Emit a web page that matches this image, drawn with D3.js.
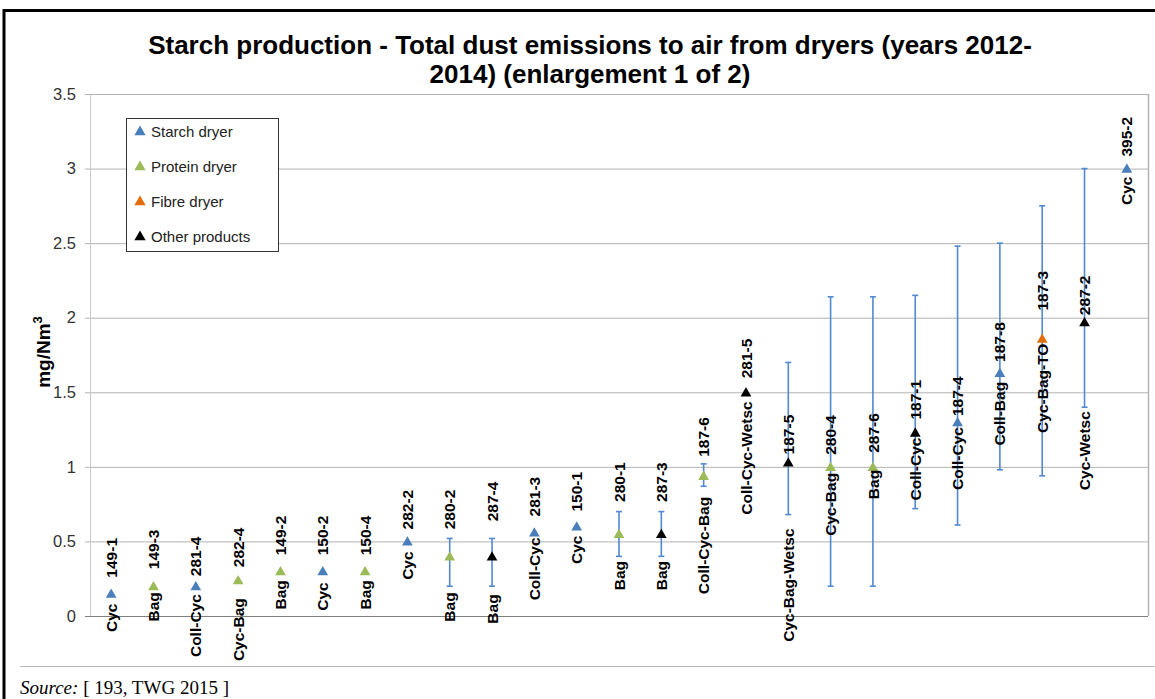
<!DOCTYPE html>
<html>
<head>
<meta charset="utf-8">
<script src="https://cdn.jsdelivr.net/npm/d3@7"></script>
<style>
  body { margin: 0; background: #fff; }
  svg { display: block; }
</style>
</head>
<body>
<div id="chart"></div>
<script>
// installation ids, in plotting order
const ids = ["149-1", "149-3", "281-4", "282-4", "149-2", "150-2", "150-4", "282-2", "280-2", "287-4",
             "281-3", "150-1", "280-1", "287-3", "187-6", "281-5", "187-5", "280-4", "287-6", "187-1",
             "187-4", "187-8", "187-3", "287-2", "395-2"];
// abatement technique shown next to each id
const techniques = ["Cyc", "Bag", "Coll-Cyc", "Cyc-Bag", "Bag", "Cyc", "Bag", "Cyc", "Bag", "Bag",
                    "Coll-Cyc", "Cyc", "Bag", "Bag", "Coll-Cyc-Bag", "Coll-Cyc-Wetsc", "Cyc-Bag-Wetsc", "Cyc-Bag", "Bag", "Coll-Cyc",
                    "Coll-Cyc", "Coll-Bag", "Cyc-Bag-TO", "Cyc-Wetsc", "Cyc"];
// dryer type: S = starch, P = protein, F = fibre, O = other products
const dryerType = ["S", "P", "S", "P", "P", "S", "P", "S", "P", "O",
                   "S", "S", "P", "O", "P", "O", "O", "P", "P", "O",
                   "S", "S", "F", "O", "S"];
// average emission (mg/Nm3)
const average = [0.15, 0.2, 0.2, 0.24, 0.3, 0.3, 0.3, 0.5, 0.4, 0.4,
                 0.56, 0.6, 0.55, 0.55, 0.94, 1.5, 1.03, 1.0, 1.0, 1.23,
                 1.3, 1.63, 1.86, 1.97, 3.0];
// min / max of the measurements (null = no range shown)
const minimum = [null, null, null, null, null, null, null, null, 0.2, 0.2,
                 null, null, 0.4, 0.4, 0.87, null, 0.68, 0.2, 0.2, 0.72,
                 0.61, 0.98, 0.94, 1.4, null];
const maximum = [null, null, null, null, null, null, null, null, 0.52, 0.52,
                 null, null, 0.7, 0.7, 1.02, null, 1.7, 2.14, 2.14, 2.15,
                 2.48, 2.5, 2.75, 3.0, null];

const yTicks = [0, 0.5, 1, 1.5, 2, 2.5, 3, 3.5];

const legendItems = [
    { key: "S", label: "Starch dryer" },
    { key: "P", label: "Protein dryer" },
    { key: "F", label: "Fibre dryer" },
    { key: "O", label: "Other products" }
];

// layout only: pixel gap between marker and the id label / technique label
const gapAbove = [16, 17, 10, 13, 16, 16, 16, 12, 27, 35, 16, 15, 32, 32, 19, 14, 8, 12, 14, 13, 6, 11, 28, 7, 12];
const gapBelow = [10, 6, 8, 18, 9, 11, 9, 10, 36, 38, 5, 9, 27, 27, 21, 9, 66, 6, 3, 5, 5, 9, 5, 89, 8];

const colors = { S: "#4a7ebb", P: "#9bbb59", F: "#e46c0a", O: "#000000" };
const barColor = "#5289d0";

const width = 1155, height = 699;
const plot = { left: 90, right: 1148, top: 94, bottom: 616 };

const svg = d3.select("#chart").append("svg")
    .attr("width", width)
    .attr("height", height)
    .style("font-family", "'Liberation Sans', Arial, sans-serif");

// outer frame
svg.append("line").attr("x1", 4).attr("x2", width).attr("y1", 10.5).attr("y2", 10.5)
    .attr("stroke", "#000").attr("stroke-width", 3);
svg.append("line").attr("x1", 4).attr("x2", 4).attr("y1", 9).attr("y2", height)
    .attr("stroke", "#000").attr("stroke-width", 3);
svg.append("line").attr("x1", 20).attr("x2", width).attr("y1", 666.5).attr("y2", 666.5)
    .attr("stroke", "#bbb").attr("stroke-width", 1);

const x = d3.scalePoint()
    .domain(ids)
    .range([plot.left, plot.right])
    .padding(0.5);

const y = d3.scaleLinear()
    .domain([0, 3.5])
    .range([plot.bottom, plot.top]);

// gridlines + y axis
const yAxis = d3.axisLeft(y)
    .tickValues(yTicks)
    .tickSize(-(plot.right - plot.left + 5))
    .tickPadding(9)
    .tickFormat(d => d);

const gy = svg.append("g")
    .attr("transform", `translate(${plot.left - 5},0)`)
    .call(yAxis);
gy.select(".domain").remove();
gy.selectAll(".tick line").attr("stroke", "#b3b3b3");
gy.selectAll(".tick").filter(d => d === 0).select("line").attr("stroke", "#808080");
gy.selectAll(".tick text").attr("font-size", 16.5).attr("fill", "#333")
    .attr("font-family", "'Liberation Sans', Arial, sans-serif");

// plot area sides
svg.append("line").attr("x1", plot.left + 0.5).attr("x2", plot.left + 0.5)
    .attr("y1", plot.top).attr("y2", plot.bottom).attr("stroke", "#c8c8c8");
svg.append("line").attr("x1", plot.right + 0.5).attr("x2", plot.right + 0.5)
    .attr("y1", plot.top).attr("y2", plot.bottom).attr("stroke", "#b3b3b3").attr("stroke-width", 1.5);

// title
const title = svg.append("text")
    .attr("x", 590).attr("y", 54)
    .attr("text-anchor", "middle")
    .attr("font-size", 26).attr("font-weight", "bold").attr("fill", "#000");
title.append("tspan").attr("x", 590).text("Starch production - Total dust emissions to air from dryers (years 2012-");
title.append("tspan").attr("x", 590).attr("dy", 29).text("2014) (enlargement 1 of 2)");

// y axis title
svg.append("text")
    .attr("transform", "translate(50,352) rotate(-90)")
    .attr("text-anchor", "middle")
    .attr("font-size", 19).attr("font-weight", "bold")
    .html("mg/Nm<tspan dy='-8' font-size='13'>3</tspan>");

const points = ids.map((id, i) => ({
    id, tech: techniques[i], type: dryerType[i], avg: average[i],
    min: minimum[i], max: maximum[i], up: gapAbove[i], down: gapBelow[i]
}));

// error bars
const bars = svg.append("g").selectAll("g")
    .data(points.filter(d => d.min !== null))
    .join("g")
    .attr("stroke", barColor)
    .attr("stroke-width", 1.6);
bars.append("line")
    .attr("x1", d => x(d.id)).attr("x2", d => x(d.id))
    .attr("y1", d => y(d.min)).attr("y2", d => y(d.max));
bars.append("line")
    .attr("x1", d => x(d.id) - 3).attr("x2", d => x(d.id) + 3)
    .attr("y1", d => y(d.min)).attr("y2", d => y(d.min));
bars.append("line")
    .attr("x1", d => x(d.id) - 3).attr("x2", d => x(d.id) + 3)
    .attr("y1", d => y(d.max)).attr("y2", d => y(d.max));

// markers
const triangle = d3.symbol().type(d3.symbolTriangle).size(50);
svg.append("g").selectAll("path")
    .data(points)
    .join("path")
    .attr("d", triangle)
    .attr("transform", d => `translate(${x(d.id)},${y(d.avg) + 1})`)
    .attr("fill", d => colors[d.type]);

// labels: id above, technique below, both rotated
const labels = svg.append("g")
    .attr("font-size", 15.5).attr("font-weight", "bold").attr("fill", "#000");
labels.selectAll("text.id")
    .data(points)
    .join("text")
    .attr("class", "id")
    .attr("transform", d => `translate(${x(d.id)},${y(d.avg) - d.up}) rotate(-90)`)
    .attr("dy", "0.36em")
    .attr("text-anchor", "start")
    .text(d => d.id);
labels.selectAll("text.tech")
    .data(points)
    .join("text")
    .attr("class", "tech")
    .attr("transform", d => `translate(${x(d.id)},${y(d.avg) + d.down}) rotate(-90)`)
    .attr("dy", "0.36em")
    .attr("text-anchor", "end")
    .text(d => d.tech);

// legend
const legend = svg.append("g").attr("transform", "translate(126,118)");
legend.append("rect")
    .attr("x", 0.5).attr("y", 0.5).attr("width", 152).attr("height", 133)
    .attr("fill", "#fff").attr("stroke", "#333").attr("stroke-width", 1);
const li = legend.selectAll("g.item")
    .data(legendItems)
    .join("g")
    .attr("class", "item")
    .attr("transform", (d, i) => `translate(0,${14 + i * 35})`);
li.append("path")
    .attr("d", d3.symbol().type(d3.symbolTriangle).size(55))
    .attr("transform", "translate(14,0)")
    .attr("fill", d => colors[d.key]);
li.append("text")
    .attr("x", 25).attr("y", 0).attr("dy", "0.35em")
    .attr("font-size", 15).attr("fill", "#222")
    .text(d => d.label);

// source
const src = svg.append("text")
    .attr("x", 20).attr("y", 694)
    .attr("font-family", "'Liberation Serif', 'Times New Roman', serif")
    .attr("font-size", 19);
src.append("tspan").attr("font-style", "italic").text("Source:");
src.append("tspan").text(" [ 193, TWG 2015 ]");
</script>
</body>
</html>
